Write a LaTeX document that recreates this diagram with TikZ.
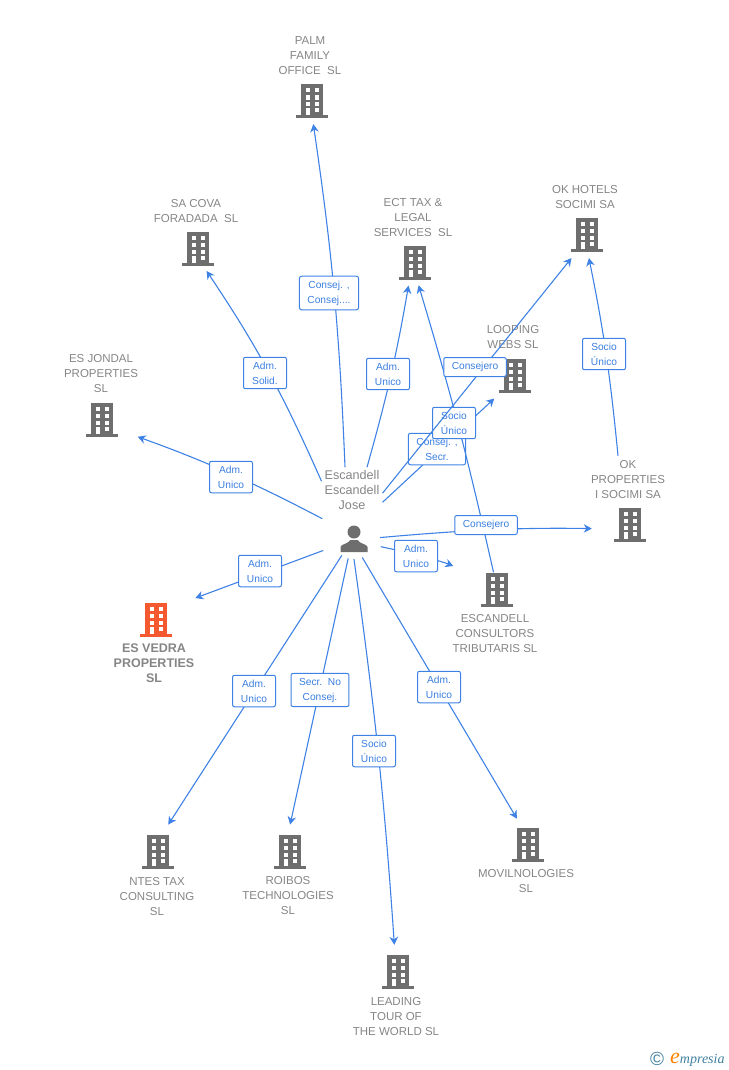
\documentclass[tikz,border=0pt]{standalone}
\usepackage{fontspec}
\setmainfont{Liberation Sans}
\newfontfamily\logofont{Liberation Serif}
\usetikzlibrary{arrows.meta}
\definecolor{gris}{HTML}{6E6E6E}
\definecolor{gristxt}{HTML}{858585}
\definecolor{naranja}{HTML}{F4592F}
\definecolor{azul}{HTML}{3F82E5}
\definecolor{azultxt}{HTML}{3B7FE0}
\definecolor{logoazul}{HTML}{3F7F9F}
\newcommand{\edificio}[4][gris]{
	\node[edificio,fill=#1] (#2) at (#3,#4) {};
	\draw[#1,line width=3] ([xshift=-16,yshift=-1.5]#2.south) -- ([xshift=16,yshift=-1.5]#2.south);
}
\begin{document}
\begin{tikzpicture}[x=1pt,y=-1pt]
	\tikzstyle{edificio}=[rectangle,inner sep=0,minimum width=22,minimum height=31,
		path picture={
			\begin{scope}[shift={(path picture bounding box.center)}]
				\foreach \fy in {-11.5,-4.2,2.5}{
					\fill[white] (-6.5,\fy) rectangle (-2.3,\fy+4.3);
					\fill[white] (2.7,\fy) rectangle (7,\fy+4.3);
				}
				\fill[white] (2.7,8.5) rectangle (7,12.5);
				\fill[white] (-6.5,8.5) rectangle (-2.3,15.5);
			\end{scope}
		}]
	\tikzstyle{nombre}=[text=gristxt,align=center,font=\fontsize{11.5}{15}\selectfont,inner sep=2]
	\tikzstyle{persona}=[circle,inner sep=0,minimum size=42,
		path picture={
			\begin{scope}[shift={(path picture bounding box.center)}]
				\fill[gris] (0,-6) circle (6.5);
				\fill[gris] (-13.5,14) -- (-13.5,9) .. controls (-13,6) and (-6,6) .. (-3.5,2) -- (3.5,2) .. controls (6,6) and (13,6) .. (13.5,9) -- (13.5,14) -- cycle;
			\end{scope}
		}]
	\tikzstyle{enlace}=[azul,line width=1.1,-{Stealth[length=8,width=8.5,inset=2.5]}]
	\tikzstyle{etq}=[rectangle,draw=azul,line width=1,fill=white,rounded corners=2,text=azultxt,
		align=center,font=\fontsize{10.2}{15}\selectfont,inner xsep=8,inner ysep=4.5,minimum height=19,minimum width=43]

	% empresas
	\edificio{palm}{312}{99.5}
	\edificio{sacova}{198}{247}
	\edificio{ect}{415}{261}
	\edificio{okhotels}{587}{233}
	\edificio{looping}{515}{374}
	\edificio{jondal}{102}{418}
	\edificio{okprop}{630}{523}
	\edificio{consult}{497}{588}
	\edificio[naranja]{vedra}{156}{618}
	\edificio{ntes}{158}{850}
	\edificio{roibos}{290}{850}
	\edificio{movil}{528}{843}
	\edificio{leading}{398}{970}

	\node[nombre] (palmnom) at (310,56) {PALM\\FAMILY\\OFFICE\ \ SL};
	\node[nombre] (sacovanom) at (196,211) {SA COVA\\FORADADA\ \ SL};
	\node[nombre] (ectnom) at (413,217.5) {ECT TAX \&\\LEGAL\\SERVICES\ \ SL};
	\node[nombre] (okhotelsnom) at (585,197) {OK HOTELS\\SOCIMI SA};
	\node[nombre] (loopingnom) at (513,337) {LOOPING\\WEBS SL};
	\node[nombre] (jondalnom) at (101,374) {ES JONDAL\\PROPERTIES\\SL};
	\node[nombre] (okpropnom) at (628,480) {OK\\PROPERTIES\\I SOCIMI SA};
	\node[nombre] (consultnom) at (495,634) {ESCANDELL\\CONSULTORS\\TRIBUTARIS SL};
	\node[nombre,font=\fontsize{12.5}{15}\selectfont\bfseries] (vedranom) at (154,663.5) {ES VEDRA\\PROPERTIES\\SL};
	\node[nombre] (ntesnom) at (157,897) {NTES TAX\\CONSULTING\\SL};
	\node[nombre] (roibosnom) at (288,896) {ROIBOS\\TECHNOLOGIES\\SL};
	\node[nombre] (movilnom) at (526,881) {MOVILNOLOGIES\\SL};
	\node[nombre] (leadingnom) at (396,1017) {LEADING\\TOUR OF\\THE WORLD SL};

	% persona
	\node[persona] (jose) at (354,538) {};
	\node[nombre,font=\fontsize{12.6}{15}\selectfont,inner sep=3] (josenom) at (352,490) {Escandell\\Escandell\\Jose};

	% enlaces
	\draw[enlace,shorten >=9] ([xshift=-7]josenom.north) to[bend right=3] (palm.south);
	\node[etq] (e1) at (329,293) {Consej. ,\\Consej....};
	\draw[enlace,shorten >=10] ([yshift=-14]josenom.north west) to[bend right=5] ([xshift=3]sacova.south);
	\node[etq] (e2) at (265,373) {Adm.\\Solid.};
	\draw[enlace,shorten <=16,shorten >=26] (jose.146) to[bend right=4] ([yshift=-10]jondal.east);
	\node[etq] (e3) at (231,477) {Adm.\\Unico};
	\draw[enlace,shorten <=12,shorten >=30] (jose.203) to ([yshift=9.5]vedra.east);
	\node[etq] (e4) at (260,571) {Adm.\\Unico};
	\draw[enlace,shorten >=11.5] (jose.-125) to ([xshift=4]ntes.north);
	\node[etq] (e5) at (254,691) {Adm.\\Unico};
	\draw[enlace,shorten >=10] (jose.-106) to ([xshift=-2]roibos.north);
	\node[etq] (e6) at (320,690) {Secr.\ \ No\\Consej.};
	\draw[enlace,shorten >=9.5] (jose.-90) to[bend left=2] ([xshift=-3]leading.north);
	\node[etq] (e7) at (374,751) {Socio\\Único};
	\draw[enlace,shorten >=10] (jose.-67) to ([xshift=-6]movil.north);
	\node[etq] (e8) at (439,687) {Adm.\\Unico};
	\draw[enlace,shorten <=7,shorten >=35] (jose.-20) to[bend left=5] ([yshift=9]consult.west);
	\node[etq] (e9) at (416,556) {Adm.\\Unico};
	\draw[enlace,shorten >=9] ([xshift=15]josenom.north) to[bend right=3] ([xshift=-5]ect.south);
	\node[etq] (e10) at (388,374) {Adm.\\Unico};
	\draw[enlace,shorten >=13] (josenom.-22) to (looping.south west);
	\node[etq] (e11) at (437,449) {Consej. ,\\Secr.};
	\draw[enlace,shorten >=9] (consult) to[bend right=2] ([xshift=1]ect.south);
	\node[etq] (e12) at (454,423) {Socio\\Único};
	\draw[enlace,shorten >=12] (josenom.-6) to ([xshift=-8]okhotels.south);
	\node[etq] (e13) at (475,367) {Consejero};
	\draw[enlace,shorten >=9.5] ([xshift=-10,yshift=3]okpropnom.north) to[bend right=3] (okhotels.south);
	\node[etq] (e14) at (604,354) {Socio\\Único};
	\draw[enlace,shorten <=5,shorten >=27] (jose.0) to[bend left=3] ([yshift=-6]okprop.west);
	\node[etq] (e15) at (486,525) {Consejero};

	% logo
	\node[logoazul,font=\fontsize{19}{19}\selectfont,inner sep=0] (copy) at (657,1059) {©};
	\node[logoazul,font=\logofont\itshape\fontsize{14}{14}\selectfont,inner sep=0,anchor=west] (logo) at (670,1060) {\textcolor{orange}{\fontsize{22}{22}\selectfont e}mpresia};
	\useasboundingbox (0,0) rectangle (728,1070);
\end{tikzpicture}
\end{document}
